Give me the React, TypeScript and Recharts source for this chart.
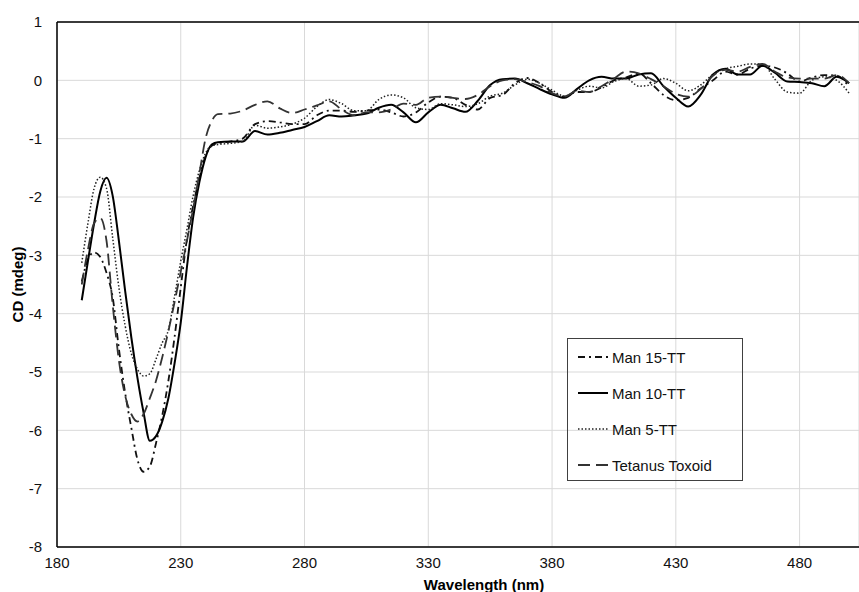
import { LineChart, Line, XAxis, YAxis, CartesianGrid, Legend, ReferenceLine } from 'recharts'

// wavelength (nm) - finer steps through the 190-245 band where the curves move fast
const wavelength = [
  190, 192.5, 195, 197.5, 200, 202.5, 205, 207.5, 210, 212.5, 215, 217.5, 220, 222.5, 225, 227.5, 230, 232.5, 235, 237.5, 240, 242.5, 245,
  250, 255, 260, 265, 270, 275, 280, 285, 290, 295, 300, 305, 310, 315, 320, 325, 330, 335, 340, 345,
  350, 355, 360, 365, 370, 375, 380, 385, 390, 395, 400, 405, 410, 415, 420, 425, 430, 435, 440, 445,
  450, 455, 460, 465, 470, 475, 480, 485, 490, 495, 500,
]

// CD (mdeg)
const man15 = [
  -3.45, -3.07, -2.95, -3.03, -3.3, -3.72, -4.6, -5.35, -5.95, -6.5, -6.71, -6.62, -6.22, -5.75, -5.15, -4.4, -3.55, -2.72, -2.15, -1.68, -1.3, -1.12, -1.08,
  -1.05, -1.0, -0.75, -0.7, -0.72, -0.75, -0.75, -0.6, -0.52, -0.52, -0.54, -0.52, -0.5, -0.55, -0.62, -0.55, -0.38, -0.28, -0.3, -0.42,
  -0.5, -0.3, -0.25, -0.05, 0.04, -0.05, -0.2, -0.28, -0.2, -0.2, -0.12, 0.0, 0.05, 0.12, -0.05, -0.25, -0.34, -0.3, -0.14, 0.0,
  0.15, 0.1, 0.2, 0.25, 0.22, 0.12, -0.02, 0.05, 0.09, 0.08, -0.11,
]

const man10 = [
  -3.77, -3.1, -2.45, -1.9, -1.67, -1.98, -2.75, -3.6, -4.4, -5.1, -5.7, -6.18, -6.1, -5.85, -5.45, -4.85, -4.15, -3.2, -2.35, -1.75, -1.32, -1.1, -1.06,
  -1.05, -1.05, -0.87, -0.93, -0.9, -0.85, -0.8, -0.7, -0.6, -0.62, -0.6, -0.57, -0.47, -0.42, -0.55, -0.72, -0.55, -0.42, -0.48, -0.54,
  -0.35, -0.08, 0.02, 0.03, -0.05, -0.15, -0.24, -0.3, -0.15, 0.0, 0.06, 0.03, 0.03, 0.1, 0.12, -0.1, -0.3, -0.45, -0.25, 0.1,
  0.2, 0.1, 0.1, 0.25, 0.13, -0.02, -0.03, -0.05, -0.1, 0.06, -0.05,
]

const man5 = [
  -3.13, -2.45, -1.85, -1.66, -1.85, -2.7, -3.55, -4.2, -4.68, -4.95, -5.07, -5.03, -4.78, -4.5, -4.28, -3.7, -3.1, -2.55, -1.98, -1.55, -1.25, -1.12, -1.1,
  -1.08, -1.05, -0.77, -0.82, -0.8, -0.75, -0.65, -0.45, -0.33, -0.4, -0.52, -0.52, -0.33, -0.25, -0.3, -0.47, -0.5, -0.4, -0.42, -0.45,
  -0.4, -0.27, -0.22, -0.08, 0.02, -0.05, -0.17, -0.27, -0.17, -0.1, -0.13, -0.02, 0.03, -0.1, -0.08, 0.03, -0.05, -0.18, -0.08, 0.1,
  0.2, 0.24, 0.28, 0.28, 0.02, -0.2, -0.22, 0.0, 0.06, 0.0, -0.22,
]

const tetanus = [
  -3.5, -2.9, -2.45, -2.36, -2.75, -3.85, -4.8, -5.4, -5.72, -5.85, -5.72, -5.45, -5.15, -4.75, -4.3, -3.8, -3.28, -2.75, -2.2, -1.6, -1.0, -0.7, -0.58,
  -0.57, -0.52, -0.42, -0.36, -0.48, -0.56, -0.5, -0.43, -0.36, -0.5, -0.6, -0.55, -0.55, -0.5, -0.4, -0.42, -0.3, -0.28, -0.3, -0.32,
  -0.25, -0.1, 0.0, 0.02, -0.03, -0.1, -0.22, -0.28, -0.18, -0.2, -0.1, 0.03, 0.15, 0.12, 0.02, -0.1, -0.23, -0.28, -0.15, 0.08,
  0.18, 0.15, 0.23, 0.28, 0.15, 0.05, 0.03, 0.03, 0.03, 0.09, -0.05,
]

const xTicks = [180, 230, 280, 330, 380, 430, 480]
const yTicks = [-8, -7, -6, -5, -4, -3, -2, -1, 0, 1]

const series = [
  { key: 'man15', name: 'Man 15-TT', color: '#111', width: 1.8, dash: '7 4 2 4' },
  { key: 'man10', name: 'Man 10-TT', color: '#000', width: 2, dash: undefined },
  { key: 'man5', name: 'Man 5-TT', color: '#222', width: 1.5, dash: '1.5 2' },
  { key: 'tt', name: 'Tetanus Toxoid', color: '#333', width: 1.8, dash: '12 6' },
]

const chartData = wavelength.map((wl, i) => ({
  wl,
  man15: man15[i],
  man10: man10[i],
  man5: man5[i],
  tt: tetanus[i],
}))

const FONT = '"Liberation Sans", Arial, sans-serif'

function LegendBox() {
  return (
    <div
      style={{
        width: 176,
        height: 143,
        boxSizing: 'border-box',
        border: '1px solid #404040',
        paddingLeft: 10,
        fontFamily: FONT,
        fontSize: 15,
        color: '#111',
      }}
    >
      {series.map(s => (
        <div key={s.key} style={{ display: 'flex', alignItems: 'center', height: 36 }}>
          <svg width={34} height={10}>
            <line x1={0} x2={30} y1={5} y2={5} stroke={s.color} strokeWidth={s.width} strokeDasharray={s.dash} />
          </svg>
          <span>{s.name}</span>
        </div>
      ))}
    </div>
  )
}

export default function App() {
  return (
    <div style={{ position: 'absolute', left: 0, top: 0 }}>
      <LineChart width={859} height={592} data={chartData} margin={{ top: 22, right: 0, bottom: 0, left: 0 }}>
        <CartesianGrid stroke="#d9d9d9" strokeWidth={1} />
        <XAxis
          dataKey="wl"
          type="number"
          domain={[180, 504]}
          ticks={xTicks}
          allowDataOverflow
          height={45}
          tickLine={false}
          tickSize={0}
          tickMargin={10}
          axisLine={{ stroke: '#000', strokeWidth: 1.5 }}
          tick={{ fill: '#111', fontSize: 15, fontFamily: FONT }}
          label={{
            value: 'Wavelength (nm)',
            position: 'insideBottom',
            offset: 2,
            dx: 26,
            style: { fill: '#000', fontSize: 15, fontWeight: 'bold', fontFamily: FONT },
          }}
        />
        <YAxis
          type="number"
          domain={[-8, 1]}
          ticks={yTicks}
          width={57}
          tickLine={false}
          tickSize={0}
          tickMargin={15}
          axisLine={{ stroke: '#000', strokeWidth: 1.5 }}
          tick={{ fill: '#111', fontSize: 15, fontFamily: FONT }}
          label={{
            value: 'CD (mdeg)',
            angle: -90,
            position: 'insideLeft',
            offset: 18,
            style: { textAnchor: 'middle', fill: '#000', fontSize: 15, fontWeight: 'bold', fontFamily: FONT },
          }}
        />
        <ReferenceLine y={1} stroke="#000" strokeWidth={1.5} />
        <Legend
          layout="horizontal"
          verticalAlign="middle"
          align="center"
          content={() => <LegendBox />}
          wrapperStyle={{ left: 567, top: 338, width: 176, height: 143 }}
        />
        {series.map(s => (
          <Line
            key={s.key}
            dataKey={s.key}
            name={s.name}
            type="monotone"
            stroke={s.color}
            strokeWidth={s.width}
            strokeDasharray={s.dash}
            dot={false}
            activeDot={false}
            isAnimationActive={false}
          />
        ))}
      </LineChart>
    </div>
  )
}
